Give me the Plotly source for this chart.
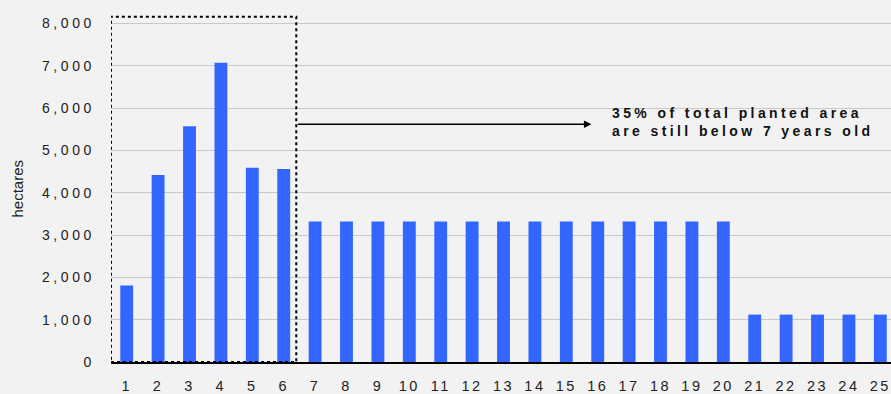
import plotly.graph_objects as go

# Planted area by stand age (years)
ages = list(range(1, 26))
hectares = [1810, 4420, 5570, 7070, 4590, 4560,
            3320, 3320, 3320, 3320, 3320, 3320, 3320,
            3320, 3320, 3320, 3320, 3320, 3320, 3320,
            1120, 1120, 1120, 1120, 1120]
y_ticks = [0, 1000, 2000, 3000, 4000, 5000, 6000, 7000, 8000]
y_tick_labels = ["0", "1,000", "2,000", "3,000", "4,000", "5,000", "6,000", "7,000", "8,000"]

note_lines = ["35% of total planted area", "are still below 7 years old"]

BAR = "#3366FF"
BG = "#F2F2F2"
INK = "#222222"

fig = go.Figure(go.Bar(
    x=ages, y=hectares, width=0.41, marker=dict(color=BAR, line=dict(width=0)),
))

# dotted box around the young stands (ages 1-6)
fig.add_shape(type="rect", xref="x", yref="y", x0=0.5, x1=6.4, y0=0, y1=8160,
              line=dict(color="black", width=2, dash="dot"), fillcolor="rgba(0,0,0,0)")

# arrow from the box to the note
fig.add_annotation(x=15.8, y=5620, ax=6.4, ay=5620, xref="x", yref="y",
                   axref="x", ayref="y", showarrow=True, arrowhead=2,
                   arrowsize=1, arrowwidth=1.5, arrowcolor="black", text="")

fig.add_annotation(x=16.4, y=5680, xref="x", yref="y", showarrow=False,
                   xanchor="left", yanchor="middle", align="left",
                   text="<br>".join(note_lines),
                   font=dict(family="Liberation Sans, Arial, sans-serif", size=14,
                             color="#111111", weight="bold"))

# axis title
fig.add_annotation(x=-0.1205, y=0.5, xref="paper", yref="paper", showarrow=False,
                   text="hectares", textangle=-90, xanchor="center", yanchor="middle",
                   font=dict(family="Liberation Sans, Arial, sans-serif", size=15, color=INK))

fig.update_layout(
    width=891, height=394,
    margin=dict(l=111, r=0, t=15, b=28.5),
    paper_bgcolor=BG, plot_bgcolor=BG,
    showlegend=False,
    font=dict(family="Liberation Sans, Arial, sans-serif", size=14, color=INK),
    bargap=0.6,
)
fig.update_xaxes(range=[0.5, 25.34], tickmode="array", tickvals=ages,
                 ticktext=[str(a) for a in ages], showgrid=False,
                 showline=True, linecolor="black", linewidth=1.5,
                 ticks="", ticklabelstandoff=10, zeroline=False, fixedrange=True,
                 tickfont=dict(size=14.5))
fig.update_yaxes(range=[0, 8200], tickmode="array", tickvals=y_ticks,
                 ticktext=y_tick_labels, showgrid=True, gridcolor="#C8C8C8",
                 gridwidth=1, zeroline=False, showline=False, ticks="",
                 ticklabelstandoff=15, fixedrange=True)

# widen tracking on tick labels and the note
spacing_js = """
var gd = document.getElementById('{plot_id}');
function track() {
  gd.querySelectorAll('.xtick text').forEach(function (t) {
    t.style.letterSpacing = '2.5px';
  });
  gd.querySelectorAll('.ytick text').forEach(function (t) {
    t.style.letterSpacing = '3.6px';
  });
  gd.querySelectorAll('.annotation-text').forEach(function (t) {
    if (t.textContent.indexOf('hectares') < 0) t.style.letterSpacing = '3.4px';
  });
}
track();
gd.on('plotly_afterplot', track);
"""

fig.write_html("out.html", post_script=spacing_js, config={"displayModeBar": False})
